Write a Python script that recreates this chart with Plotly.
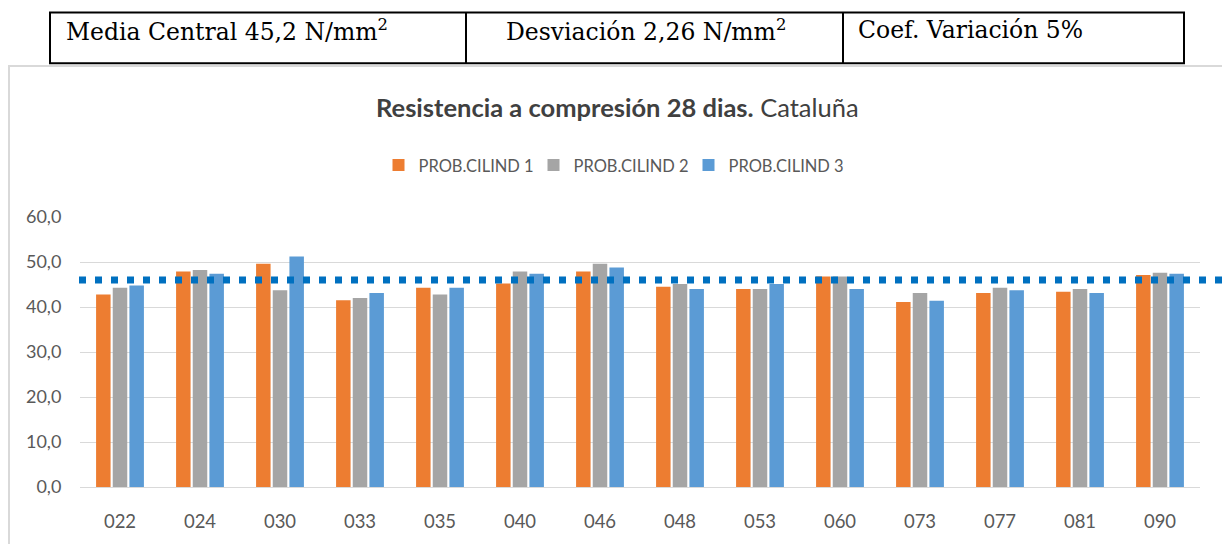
import plotly.graph_objects as go

# ---- data ----
categories = ["022", "024", "030", "033", "035", "040", "046", "048", "053", "060", "073", "077", "081", "090"]
cilind1 = [42.8, 47.9, 49.6, 41.5, 44.3, 45.2, 47.9, 44.5, 44.0, 46.8, 41.1, 43.1, 43.4, 47.1]
cilind2 = [44.3, 48.2, 43.7, 42.0, 42.8, 47.9, 49.6, 45.1, 44.0, 46.8, 43.1, 44.3, 44.0, 47.6]
cilind3 = [44.8, 47.4, 51.2, 43.1, 44.3, 47.4, 48.8, 44.0, 45.1, 44.0, 41.4, 43.7, 43.1, 47.4]
series_names = ["PROB.CILIND 1", "PROB.CILIND 2", "PROB.CILIND 3"]
mean_line = 46.0
table_texts = ["Media Central 45,2 N/mm<sup>2</sup>", "Desviación 2,26 N/mm<sup>2</sup>", "Coef. Variación 5%"]
title_bold = "Resistencia a compresión 28 dias."
title_rest = "Cataluña"

colors = ["#ED7D31", "#A5A5A5", "#5B9BD5"]

W, H = 1222, 544
L, R, T, B = 80, 22, 217, 55
PW = W - L - R
PH = H - T - B


def xp(px):
    return (px - L) / PW


def yp(py):
    return (H - B - py) / PH


fig = go.Figure()
for name, vals, col in zip(series_names, [cilind1, cilind2, cilind3], colors):
    fig.add_trace(go.Bar(x=categories, y=vals, name=name, marker=dict(color=col, line=dict(width=0))))

shapes = []
# chart frame
shapes.append(dict(type="rect", xref="paper", yref="paper", x0=xp(9), x1=xp(1240), y0=yp(65), y1=yp(560),
                   line=dict(color="#D9D9D9", width=2), layer="below"))
# mean dotted line
shapes.append(dict(type="line", xref="paper", yref="y", x0=xp(79), x1=xp(1222), y0=mean_line, y1=mean_line,
                   line=dict(color="#0070C0", width=7, dash="7px,9px")))
# table
shapes.append(dict(type="rect", xref="paper", yref="paper", x0=xp(50), x1=xp(1184), y0=yp(11), y1=yp(62),
                   line=dict(color="black", width=2)))
for vx in [466, 843]:
    shapes.append(dict(type="line", xref="paper", yref="paper", x0=xp(vx), x1=xp(vx), y0=yp(11), y1=yp(62),
                       line=dict(color="black", width=2)))

annotations = []
for txt, px in zip(table_texts, [64, 504, 856]):
    annotations.append(dict(text=txt, xref="paper", yref="paper", x=xp(px), y=yp(29), xanchor="left",
                            yanchor="middle", showarrow=False,
                            font=dict(family="DejaVu Serif", size=23.5, color="black")))
annotations.append(dict(text="<b>" + title_bold + "</b> " + title_rest, xref="paper", yref="paper",
                        x=xp(617), y=yp(106), xanchor="center", yanchor="middle", showarrow=False,
                        font=dict(family="Lato", size=25.5, color="#404040")))

fig.update_layout(
    width=W, height=H, autosize=False,
    margin=dict(l=L, r=R, t=T, b=B, pad=0),
    paper_bgcolor="white", plot_bgcolor="white",
    separators=",.",
    barmode="group", bargap=0.375, bargroupgap=0.13,
    font=dict(family="Lato", color="#595959"),
    legend=dict(orientation="h", x=xp(611), xanchor="center", y=yp(165), yanchor="middle",
                font=dict(size=16.5, color="#595959"), itemwidth=30, traceorder="normal",
                entrywidth=110, entrywidthmode="pixels"),
    shapes=shapes, annotations=annotations,
)
fig.update_yaxes(range=[0, 60], dtick=10, tickformat=".1f", showgrid=True, gridcolor="#D9D9D9", gridwidth=1,
                 zeroline=False, showline=False, tickfont=dict(size=18, color="#595959"),
                 ticks="outside", ticklen=14, tickcolor="rgba(0,0,0,0)")
fig.update_xaxes(type="category", showline=True, linecolor="#D9D9D9", linewidth=1,
                 tickfont=dict(size=18.5, color="#595959"), ticks="outside", ticklen=18,
                 tickcolor="rgba(0,0,0,0)")

fig.write_html("out.html", config={"displayModeBar": False},
               post_script="document.body.style.margin='0';document.body.style.overflow='hidden';")
